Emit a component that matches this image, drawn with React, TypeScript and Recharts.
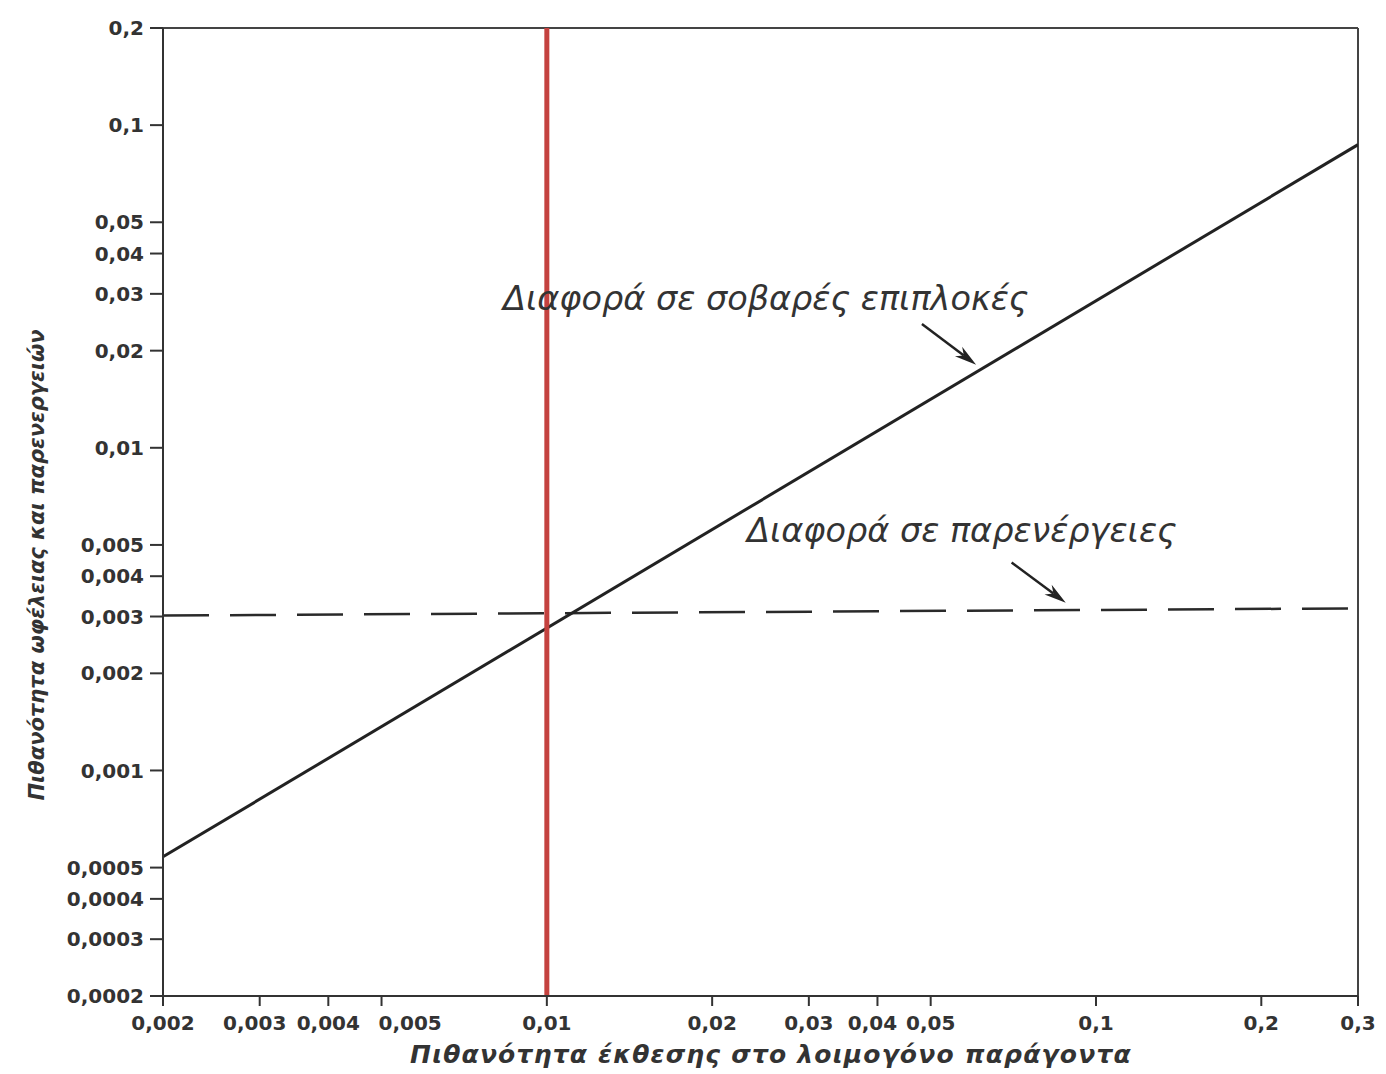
import React from 'react';
import { LineChart, Line, XAxis, YAxis, ReferenceLine } from 'recharts';

// axis ticks (log-log)
const X_TICKS = [0.002, 0.003, 0.004, 0.005, 0.01, 0.02, 0.03, 0.04, 0.05, 0.1, 0.2, 0.3];
const Y_TICKS = [0.0002, 0.0003, 0.0004, 0.0005, 0.001, 0.002, 0.003, 0.004, 0.005, 0.01, 0.02, 0.03, 0.04, 0.05, 0.1, 0.2];

// series
const SEVERE_X = [0.002, 0.3];
const SEVERE_Y = [0.00054, 0.087];
const SIDE_X = [0.002, 0.3];
const SIDE_Y = [0.00302, 0.00318];
const THRESHOLD_X = 0.01;

// annotation arrows (data coords: tail -> head)
const ARROW_SEVERE = [{ x: 0.0482, y: 0.0242 }, { x: 0.0605, y: 0.0181 }];
const ARROW_SIDE = [{ x: 0.0702, y: 0.00441 }, { x: 0.0881, y: 0.00331 }];

const LABEL_SEVERE = 'Διαφορά σε σοβαρές επιπλοκές';
const LABEL_SIDE = 'Διαφορά σε παρενέργειες';
const X_TITLE = 'Πιθανότητα έκθεσης στο λοιμογόνο παράγοντα';
const Y_TITLE = 'Πιθανότητα ωφέλειας και παρενεργειών';

const severeData = SEVERE_X.map((x, i) => ({ x, y: SEVERE_Y[i] }));
const sideData = SIDE_X.map((x, i) => ({ x, y: SIDE_Y[i] }));

const FONT = "'DejaVu Sans', sans-serif";
const INK = '#333';

const fmt = (v: number) => String(v).replace('.', ',');

// a couple of crowded labels are nudged, as in the original
const X_NUDGE: Record<string, { dx: number; anchor: string }> = {
  '0.005': { dx: -3, anchor: 'start' },
  '0.04': { dx: -5, anchor: 'middle' },
  '0.003': { dx: -5, anchor: 'middle' },
};

function XTick({ x, y, payload }: any) {
  const v = payload.value as number;
  const n = X_NUDGE[String(v)] || { dx: 0, anchor: 'middle' };
  return (
    <text
      x={x + n.dx}
      y={y}
      dy={20}
      textAnchor={n.anchor}
      fill={INK}
      fontSize={20}
      fontWeight="bold"
      fontFamily={FONT}
    >
      {fmt(v)}
    </text>
  );
}

function Arrow({ x1, y1, x2, y2 }: any) {
  const a = Math.atan2(y2 - y1, x2 - x1);
  const L = 22, W = 6;
  const bx = x2 - L * Math.cos(a), by = y2 - L * Math.sin(a);
  const nx = -Math.sin(a) * W, ny = Math.cos(a) * W;
  const mx = x2 - L * 0.7 * Math.cos(a), my = y2 - L * 0.7 * Math.sin(a);
  return (
    <g>
      <line x1={x1} y1={y1} x2={mx} y2={my} stroke="#222" strokeWidth={2.5} />
      <polygon points={`${x2},${y2} ${bx + nx},${by + ny} ${mx},${my} ${bx - nx},${by - ny}`} fill="#222" />
    </g>
  );
}

export default function App() {
  return (
    <div style={{ position: 'absolute', left: 0, top: 0, width: 1386, height: 1074, background: '#fff' }}>
      <LineChart width={1386} height={1074} margin={{ top: 28, right: 28, bottom: 38, left: 13 }}>
        <XAxis
          dataKey="x"
          type="number"
          scale="log"
          domain={[0.002, 0.3]}
          ticks={X_TICKS}
          interval={0}
          allowDataOverflow
          height={40}
          tick={<XTick />}
          tickSize={10}
          tickMargin={4}
          axisLine={{ stroke: INK, strokeWidth: 2 }}
          tickLine={{ stroke: INK, strokeWidth: 2 }}
        />
        <YAxis
          dataKey="y"
          type="number"
          scale="log"
          domain={[0.0002, 0.2]}
          ticks={Y_TICKS}
          interval={0}
          allowDataOverflow
          width={150}
          tickFormatter={fmt}
          tick={{ fill: INK, fontSize: 20, fontWeight: 'bold', fontFamily: FONT }}
          tickSize={13}
          tickMargin={6}
          axisLine={{ stroke: INK, strokeWidth: 2 }}
          tickLine={{ stroke: INK, strokeWidth: 2 }}
        />
        <ReferenceLine y={0.2} stroke="#444" strokeWidth={2} />
        <ReferenceLine x={0.3} stroke="#444" strokeWidth={2} />
        <Line
          data={sideData}
          dataKey="y"
          stroke="#2a2a2a"
          strokeWidth={2.5}
          strokeDasharray="46 21"
          dot={false}
          isAnimationActive={false}
        />
        <Line
          data={severeData}
          dataKey="y"
          stroke="#222"
          strokeWidth={3}
          dot={false}
          isAnimationActive={false}
        />
        <ReferenceLine x={THRESHOLD_X} stroke="#c4423f" strokeWidth={5} />
        <ReferenceLine segment={ARROW_SEVERE} shape={Arrow} />
        <ReferenceLine segment={ARROW_SIDE} shape={Arrow} />
      </LineChart>
      <svg width={1386} height={1074} style={{ position: 'absolute', left: 0, top: 0, pointerEvents: 'none' }}>
        <text x={503} y={310} fontSize={33.5} fontStyle="italic" fontFamily={FONT} fill="#333">
          {LABEL_SEVERE}
        </text>
        <text x={747} y={542} fontSize={33.5} fontStyle="italic" fontFamily={FONT} fill="#333">
          {LABEL_SIDE}
        </text>
        <text
          x={771}
          y={1063}
          textAnchor="middle"
          fontSize={25}
          letterSpacing={1.2}
          fontWeight="bold"
          fontStyle="italic"
          fontFamily={FONT}
          fill="#333"
        >
          {X_TITLE}
        </text>
        <text
          x={0}
          y={0}
          transform="translate(44,565) rotate(-90)"
          textAnchor="middle"
          fontSize={21}
          fontWeight="bold"
          fontStyle="italic"
          fontFamily={FONT}
          fill="#333"
        >
          {Y_TITLE}
        </text>
      </svg>
    </div>
  );
}
